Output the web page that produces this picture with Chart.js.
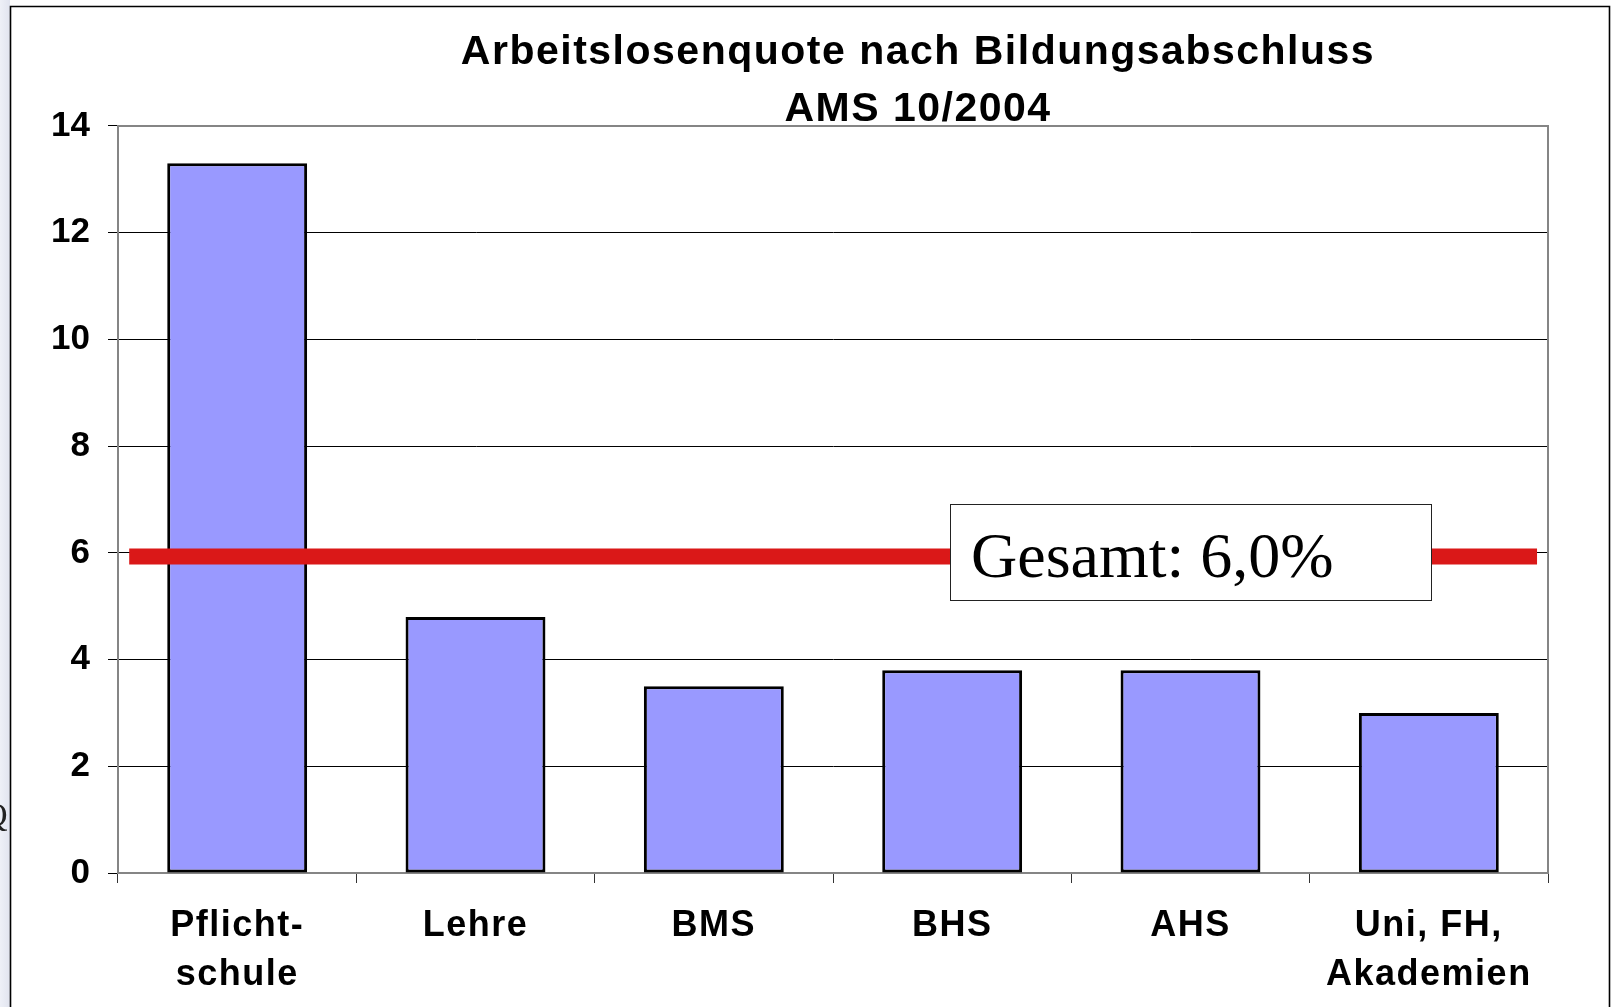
<!DOCTYPE html>
<html>
<head>
<meta charset="utf-8">
<script src="https://cdn.jsdelivr.net/npm/chart.js@4.4.0/dist/chart.umd.min.js"></script>
<style>
  html, body { margin: 0; padding: 0; background: #fff; overflow: hidden; }
  canvas { display: block; }
</style>
</head>
<body>
<canvas id="c" width="1614" height="1007"></canvas>
<script>
// ---------------- data ----------------
const TITLE_LINES = ['Arbeitslosenquote nach Bildungsabschluss', 'AMS 10/2004'];
const CATEGORIES = [['Pflicht-', 'schule'], ['Lehre'], ['BMS'], ['BHS'], ['AHS'], ['Uni, FH,', 'Akademien']];
const RATES = [13.3, 4.8, 3.5, 3.8, 3.8, 3.0];
const Y_TICKS = [0, 2, 4, 6, 8, 10, 12, 14];
const TOTAL_RATE = 5.93;          // level at which the overall-rate bar is drawn
const TOTAL_LABEL = 'Gesamt: 6,0%';
const STRAY_GLYPH = 'Q';

// ---------------- styling ----------------
const FONT_SANS = "'Liberation Sans', Arial, sans-serif";
const FONT_SERIF = "'Liberation Serif', 'Times New Roman', serif";

function wrapDraw(obj, fn, spacing, dxFn, dy) {
  if (!obj || obj['_wrapped_' + fn]) return;
  const orig = obj[fn];
  obj[fn] = function (...args) {
    const ctx = this.ctx;
    ctx.save();
    if ('letterSpacing' in ctx) ctx.letterSpacing = spacing;
    ctx.translate(dxFn ? dxFn(this) : 0, dy || 0);
    const r = orig.apply(this, args);
    ctx.restore();
    return r;
  };
  obj['_wrapped_' + fn] = true;
}

const spacingPlugin = {
  id: 'spacing',
  afterLayout(chart) {
    wrapDraw(chart.titleBlock, 'draw', '1.5px', (t) => 918 - (t.left + t.right) / 2, 24.5);
    wrapDraw(chart.scales.x, 'drawLabels', '1.5px');
    wrapDraw(chart.scales.y, 'drawLabels', '0px');
  }
};

const backgroundPlugin = {
  id: 'bgFrame',
  beforeDraw(chart) {
    const { ctx, width, height } = chart;
    ctx.save();
    ctx.fillStyle = '#ffffff';
    ctx.fillRect(0, 0, width, height);
    const g = ctx.createLinearGradient(0, 0, 10, 0);
    g.addColorStop(0, '#EEF0F7');
    g.addColorStop(1, '#E1E4EF');
    ctx.fillStyle = g;
    ctx.fillRect(0, 0, 10, height);
    ctx.fillStyle = '#222';
    ctx.font = '34px ' + FONT_SERIF;
    ctx.textBaseline = 'alphabetic';
    ctx.fillText(STRAY_GLYPH, -17, 826);
    ctx.strokeStyle = '#000';
    ctx.lineWidth = 1.6;
    ctx.beginPath();
    ctx.moveTo(10.5, height + 2);
    ctx.lineTo(10.5, 6.5);
    ctx.lineTo(1609.5, 6.5);
    ctx.lineTo(1609.5, height + 2);
    ctx.stroke();
    ctx.restore();
  }
};

const overlayPlugin = {
  id: 'overlay',
  afterDatasetsDraw(chart) {
    const { ctx, chartArea } = chart;
    const { left, right, top, bottom } = chartArea;
    ctx.save();
    // plot area border (top + right)
    ctx.strokeStyle = '#858585';
    ctx.lineWidth = 2;
    ctx.beginPath();
    ctx.moveTo(left, top);
    ctx.lineTo(right, top);
    ctx.lineTo(right, bottom);
    ctx.stroke();

    // label box for overall rate
    const xs = chart.scales.x2, ys = chart.scales.y;
    const x0 = Math.round(xs.getPixelForValue(3.491)) + 0.5;
    const x1 = Math.round(xs.getPixelForValue(5.509)) + 0.5;
    const y0 = Math.round(ys.getPixelForValue(6.91)) + 0.5;
    const y1 = Math.round(ys.getPixelForValue(5.11)) + 0.5;
    ctx.fillStyle = '#ffffff';
    ctx.fillRect(x0, y0, x1 - x0, y1 - y0);
    ctx.strokeStyle = '#222';
    ctx.lineWidth = 1;
    ctx.strokeRect(x0, y0, x1 - x0, y1 - y0);
    ctx.fillStyle = '#000';
    ctx.font = '64px ' + FONT_SERIF;
    ctx.textBaseline = 'alphabetic';
    ctx.textAlign = 'left';
    ctx.fillText(TOTAL_LABEL, x0 + 20.5, ys.getPixelForValue(TOTAL_RATE) + 20);
    ctx.restore();
  }
};

new Chart(document.getElementById('c'), {
  type: 'bar',
  data: {
    labels: CATEGORIES,
    datasets: [
      {
        type: 'line',
        label: TOTAL_LABEL,
        xAxisID: 'x2',
        yAxisID: 'y',
        data: [{ x: 0.047, y: TOTAL_RATE }, { x: 5.954, y: TOTAL_RATE }],
        borderColor: '#DA1818',
        borderWidth: 16,
        borderCapStyle: 'butt',
        pointRadius: 0,
        fill: false,
        tension: 0,
        order: 0
      },
      {
        type: 'bar',
        label: 'Arbeitslosenquote',
        xAxisID: 'x',
        yAxisID: 'y',
        data: RATES,
        backgroundColor: '#9999FF',
        borderColor: '#000000',
        borderWidth: 3,
        borderSkipped: false,
        grouped: false,
        categoryPercentage: 1.0,
        barPercentage: 0.587,
        order: 1
      }
    ]
  },
  options: {
    responsive: false,
    devicePixelRatio: 1,
    animation: false,
    events: [],
    layout: { padding: { left: 0, right: 66, top: 0, bottom: 0 } },
    plugins: {
      legend: { display: false },
      tooltip: { enabled: false },
      title: {
        display: true,
        text: TITLE_LINES,
        color: '#000',
        font: { family: FONT_SANS, size: 41, weight: 'bold', lineHeight: 57 / 41 },
        padding: { top: 0, bottom: 12 }
      }
    },
    scales: {
      x: {
        type: 'category',
        offset: true,
        grid: { offset: true, drawOnChartArea: false, drawTicks: true, tickLength: 10, color: '#333', lineWidth: 1 },
        border: { color: '#858585', width: 2 },
        ticks: {
          color: '#000',
          font: { family: FONT_SANS, size: 36, weight: 'bold', lineHeight: 1.36 },
          padding: 19,
          maxRotation: 0,
          autoSkip: false
        },
        afterFit(s) { s.height = 134; }
      },
      x2: { type: 'linear', display: false, offset: false, grid: { offset: false }, min: 0, max: 6 },
      y: {
        min: Y_TICKS[0],
        max: Y_TICKS[Y_TICKS.length - 1],
        afterBuildTicks(s) { s.ticks = Y_TICKS.map(v => ({ value: v })); },
        grid: { color: '#000', lineWidth: 1, tickLength: 10, drawTicks: true },
        border: { color: '#858585', width: 2 },
        ticks: {
          color: '#000',
          font: { family: FONT_SANS, size: 35, weight: 'bold' },
          padding: 18
        },
        afterFit(s) { s.width = 118; }
      }
    }
  },
  plugins: [backgroundPlugin, spacingPlugin, overlayPlugin]
});
</script>
</body>
</html>
